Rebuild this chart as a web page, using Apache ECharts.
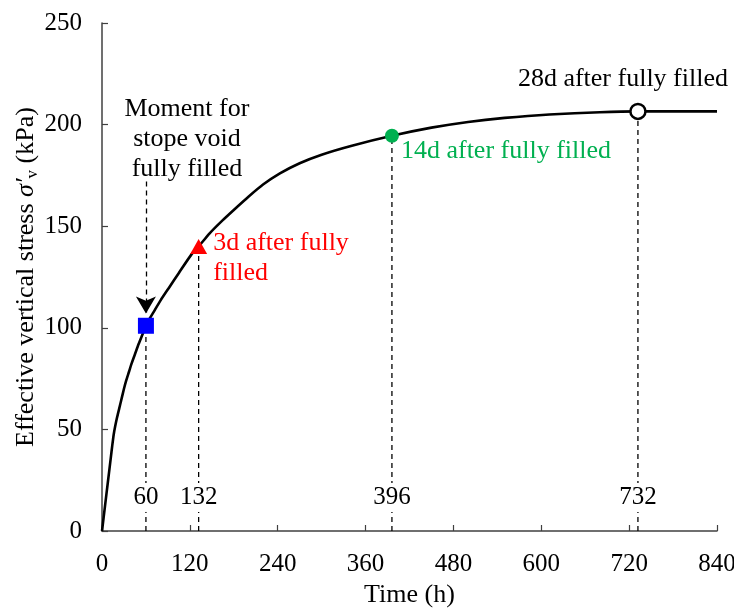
<!DOCTYPE html>
<html>
<head>
<meta charset="utf-8">
<script src="https://cdn.jsdelivr.net/npm/echarts@6/dist/echarts.min.js"></script>
<style>
  html, body { margin: 0; padding: 0; background: #fff; }
  #chart { width: 734px; height: 608px; }
</style>
</head>
<body>
<div id="chart"></div>
<script>
// Consolidation curve: effective vertical stress against time
const curveHours  = [0, 4, 8, 12, 14, 16, 18, 20, 22, 25, 27, 30, 33, 37, 40, 45, 50, 55, 60, 65, 70, 80, 92, 105, 122, 132, 147, 165, 180, 200, 220, 243, 270, 300, 340, 396, 450, 500, 550, 611, 680, 732, 840];
const curveStress = [0, 12, 24, 36, 42, 47.5, 51.5, 55, 58, 62.5, 65.5, 70, 74, 78.5, 82, 87, 92, 96.5, 101, 104.5, 107.5, 113.5, 120, 127, 136, 140, 146.5, 153, 158, 164.5, 170.5, 176, 181, 185.2, 189.5, 194.5, 198.5, 201.3, 203.3, 205, 206.1, 206.5, 206.5];

// Key moments along the filling history
const eventHours  = [60, 132, 396, 732];
const eventStress = [101, 140, 194.5, 206.5];
const eventNotes  = [
  'Moment for\nstope void\nfully filled',
  '3d after fully\nfilled',
  '14d after fully filled',
  '28d after fully filled'
];

// Axis ticks
const xTicks = [0, 120, 240, 360, 480, 600, 720, 840];
const yTicks = [0, 50, 100, 150, 200, 250];

const FONT = '"Liberation Serif", "Times New Roman", serif';

// Per-event marker look and note placement
const eventLook = [
  { symbol: 'rect',     size: 16,       color: '#0000FF', border: '#0000FF', bw: 0,
    note: { color: '#000', position: 'top', distance: 134, offset: [41, 0], align: 'center' } },
  { symbol: 'triangle', size: [17, 15], color: '#FF0000', border: '#FF0000', bw: 0,
    note: { color: '#FF0000', position: 'right', distance: 6, offset: [0, 12], align: 'left' } },
  { symbol: 'circle',   size: 14,       color: '#00B050', border: '#00B050', bw: 0,
    note: { color: '#00B050', position: 'right', distance: 2, offset: [0, 15], align: 'left' } },
  { symbol: 'circle',   size: 15,       color: '#FFFFFF', border: '#000000', bw: 2.5,
    note: { color: '#000', position: 'top', distance: 8, offset: [-15, 0], align: 'center' } }
];

const chart = echarts.init(document.getElementById('chart'), null, { renderer: 'canvas' });

const series = [];

// main curve
series.push({
  type: 'line',
  data: curveHours.map((t, i) => [t, curveStress[i]]),
  smooth: 0.2,
  symbol: 'none',
  lineStyle: { color: '#000', width: 2.6, join: 'round' },
  z: 3
});

// dashed drop lines from each event down to the time axis
eventHours.forEach((t, i) => {
  series.push({
    type: 'line',
    data: [[t, 0], [t, eventStress[i]]],
    symbol: 'none',
    lineStyle: { color: '#000', width: 1.3, type: [5, 4] },
    z: 2,
    silent: true
  });
});

// hour readings on the drop lines
series.push({
  type: 'scatter',
  data: eventHours.map(t => [t, 16.5]),
  symbolSize: 0,
  itemStyle: { opacity: 1 },
  z: 4,
  label: {
    show: true,
    position: 'inside',
    formatter: p => String(p.value[0]),
    fontFamily: FONT,
    fontSize: 25,
    color: '#000',
    opacity: 1,
    backgroundColor: '#fff',
    padding: [2, 1, 2, 1]
  }
});

// dashed pointer with arrow head above the first event
series.push({
  type: 'line',
  data: [],
  markLine: {
    silent: true,
    symbol: ['none', 'arrow'],
    symbolSize: [15, 17],
    label: { show: false },
    lineStyle: { color: '#000', width: 1.3, type: [5, 4] },
    data: [[{ coord: [eventHours[0], 172] }, { coord: [eventHours[0], 107] }]]
  }
});

// event markers with notes
series.push({
  type: 'scatter',
  z: 5,
  data: eventHours.map((t, i) => {
    const lk = eventLook[i];
    return {
      value: [t, eventStress[i]],
      symbol: lk.symbol,
      symbolSize: lk.size,
      itemStyle: { color: lk.color, borderColor: lk.border, borderWidth: lk.bw, opacity: 1 },
      label: {
        show: true,
        formatter: eventNotes[i],
        position: lk.note.position,
        distance: lk.note.distance,
        offset: lk.note.offset,
        align: lk.note.align,
        color: lk.note.color,
        fontFamily: FONT,
        fontSize: 26,
        lineHeight: 30
      }
    };
  })
});

chart.setOption({
  animation: false,
  backgroundColor: '#fff',
  grid: { left: 102, right: 17, top: 23, bottom: 77, containLabel: false, outerBoundsMode: 'none' },
  xAxis: {
    type: 'value',
    min: xTicks[0],
    max: xTicks[xTicks.length - 1],
    interval: xTicks[1] - xTicks[0],
    name: 'Time (h)',
    nameLocation: 'middle',
    nameGap: 51,
    nameMoveOverlap: false,
    nameTextStyle: { fontFamily: FONT, fontSize: 26, color: '#000' },
    axisLine: { lineStyle: { color: '#404040', width: 1.5 } },
    axisTick: { inside: true, length: 6, lineStyle: { color: '#404040', width: 1.2 } },
    axisLabel: { fontFamily: FONT, fontSize: 25, color: '#000', margin: 21 },
    splitLine: { show: false }
  },
  yAxis: {
    type: 'value',
    min: yTicks[0],
    max: yTicks[yTicks.length - 1],
    interval: yTicks[1] - yTicks[0],
    name: 'Effective vertical stress {s|σ′}{sub|v} (kPa)',
    nameLocation: 'middle',
    nameGap: 61,
    nameMoveOverlap: false,
    nameRotate: 90,
    nameTextStyle: {
      fontFamily: FONT, fontSize: 26, color: '#000',
      rich: {
        s: { fontFamily: FONT, fontSize: 26, fontStyle: 'italic', color: '#000' },
        sub: { fontFamily: FONT, fontSize: 17, color: '#000', verticalAlign: 'bottom', padding: [12, 0, 0, 0] }
      }
    },
    axisLine: { show: true, lineStyle: { color: '#404040', width: 1.5 } },
    axisTick: { show: true, inside: true, length: 6, lineStyle: { color: '#404040', width: 1.2 } },
    axisLabel: { fontFamily: FONT, fontSize: 25, color: '#000', margin: 20 },
    splitLine: { show: false }
  },
  series: series
});
</script>
</body>
</html>
